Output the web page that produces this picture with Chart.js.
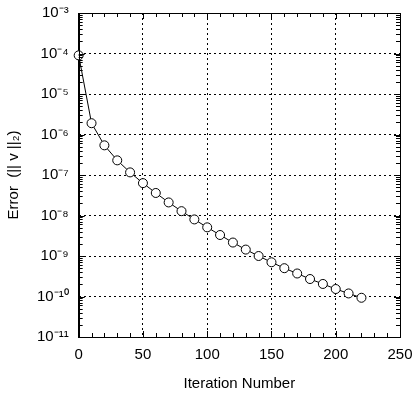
<!DOCTYPE html>
<html>
<head>
<meta charset="utf-8">
<script src="https://cdn.jsdelivr.net/npm/chart.js@4/dist/chart.umd.min.js"></script>
<style>
  html, body { margin: 0; padding: 0; background: #fff; }
  #wrap { width: 418px; height: 395px; }
</style>
</head>
<body>
<div id="wrap"><canvas id="c" width="418" height="395"></canvas></div>
<script>
const iterations = [0, 10, 20, 30, 40, 50, 60, 70, 80, 90, 100, 110, 120, 130, 140, 150, 160, 170, 180, 190, 200, 210, 220];
const errors = [9e-5, 1.9e-6, 5.4e-7, 2.3e-7, 1.16e-7, 6.3e-8, 3.6e-8, 2.1e-8, 1.28e-8, 8e-9, 5.1e-9, 3.3e-9, 2.15e-9, 1.44e-9, 1.0e-9, 7e-10, 5e-10, 3.7e-10, 2.7e-10, 2.04e-10, 1.53e-10, 1.19e-10, 9.3e-11];
const xTickValues = [0, 50, 100, 150, 200, 250];
const yExponents = [-11, -10, -9, -8, -7, -6, -5, -4, -3];
const xLabel = 'Iteration Number';
const yLabel = 'Error  (|| v ||\u2082)';

const supMap = {'-': '\u207B', '0': '\u2070', '1': '\u00B9', '2': '\u00B2', '3': '\u00B3', '4': '\u2074', '5': '\u2075', '6': '\u2076', '7': '\u2077', '8': '\u2078', '9': '\u2079'};
function powLabel(e) { return '10' + String(e).split('').map(c => supMap[c]).join(''); }
function isMajor(v) { const l = Math.log10(v); return Math.abs(l - Math.round(l)) < 1e-9; }

const FONT = '"Liberation Sans", Arial, Helvetica, sans-serif';

const boxTicks = {
  id: 'boxTicks',
  afterDatasetsDraw(chart) {
    const { ctx, chartArea: a, scales } = chart;
    ctx.save();
    ctx.strokeStyle = '#000';
    ctx.lineWidth = 1;
    ctx.setLineDash([]);
    ctx.strokeRect(Math.round(a.left) + 0.5, Math.round(a.top) + 0.5, Math.round(a.right - a.left), Math.round(a.bottom - a.top));
    const xs = scales.x;
    ctx.beginPath();
    for (let v = 0; v <= 250; v += 10) {
      const px = Math.round(xs.getPixelForValue(v)) + 0.5;
      const len = (v % 50 === 0) ? 6 : 4;
      ctx.moveTo(px, a.bottom); ctx.lineTo(px, a.bottom - len);
      ctx.moveTo(px, a.top); ctx.lineTo(px, a.top + len);
    }
    const ys = scales.y;
    for (let e = -11; e < -3; e++) {
      for (let m = 1; m <= 9; m++) {
        const v = m * Math.pow(10, e);
        const py = Math.round(ys.getPixelForValue(v)) + 0.5;
        const len = m === 1 ? 6 : 4;
        ctx.moveTo(a.left, py); ctx.lineTo(a.left + len, py);
        ctx.moveTo(a.right, py); ctx.lineTo(a.right - len, py);
      }
    }
    ctx.stroke();
    ctx.restore();
  }
};

new Chart(document.getElementById('c'), {
  type: 'line',
  data: {
    datasets: [{
      data: iterations.map((x, i) => ({ x: x, y: errors[i] })),
      borderColor: '#000',
      borderWidth: 1,
      pointRadius: 4.5,
      pointBackgroundColor: '#fff',
      pointBorderColor: '#000',
      pointBorderWidth: 1,
      tension: 0,
      fill: false,
      clip: false
    }]
  },
  options: {
    responsive: false,
    animation: false,
    devicePixelRatio: 1,
    layout: { padding: { top: 13, right: 18, bottom: 0, left: 5 } },
    plugins: { legend: { display: false }, tooltip: { enabled: false } },
    scales: {
      x: {
        type: 'linear',
        min: 0, max: 250,
        afterBuildTicks: s => { s.ticks = xTickValues.map(v => ({ value: v })); },
        afterFit: s => { s.paddingLeft = 0; s.paddingRight = 0; },
        ticks: { color: '#000', font: { family: FONT, size: 15 }, padding: 9, maxRotation: 0 },
        grid: {
          drawTicks: false,
          color: c => (c.tick && (c.tick.value === 0 || c.tick.value === 250)) ? 'rgba(0,0,0,0)' : '#000',
          lineWidth: 1
        },
        border: { display: true, color: '#000', dash: [2, 3], width: 1 },
        title: { display: true, text: xLabel, color: '#000', font: { family: FONT, size: 15 }, padding: { top: 2, bottom: 2 } }
      },
      y: {
        type: 'logarithmic',
        min: 1e-11, max: 1e-3,
        afterBuildTicks: s => { s.ticks = yExponents.map(e => ({ value: Math.pow(10, e) })); },
        afterFit: s => { s.paddingTop = 0; s.paddingBottom = 0; },
        ticks: {
          color: '#000', font: { family: FONT, size: 15 }, padding: 10,
          callback: v => isMajor(v) ? powLabel(Math.round(Math.log10(v))) : ''
        },
        grid: {
          drawTicks: false,
          color: c => (c.tick && (Math.abs(Math.log10(c.tick.value) + 11) < 1e-6 || Math.abs(Math.log10(c.tick.value) + 3) < 1e-6)) ? 'rgba(0,0,0,0)' : '#000',
          lineWidth: 1
        },
        border: { display: true, color: '#000', dash: [2, 3], width: 1 },
        title: { display: true, text: yLabel, color: '#000', font: { family: FONT, size: 15 }, padding: { top: 0, bottom: 4 } }
      }
    }
  },
  plugins: [boxTicks]
});
</script>
</body>
</html>
